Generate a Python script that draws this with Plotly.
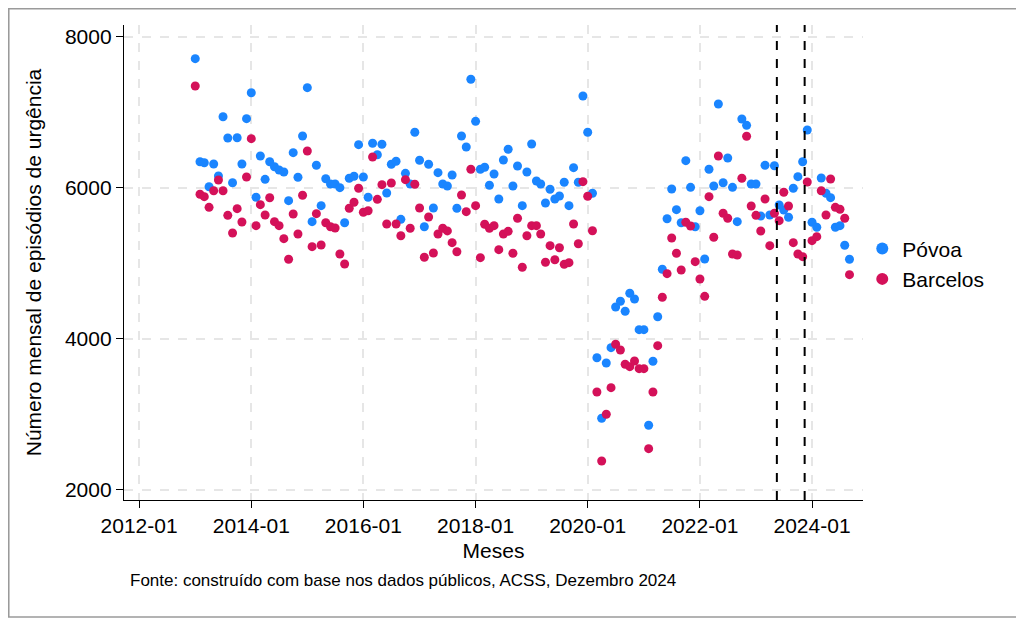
import pandas as pd
import plotly.graph_objects as go

# Monthly dates (first of month), 2013-01 .. 2024-09
meses = pd.date_range("2013-01-01", "2024-09-01", freq="MS")

povoa = [
    7709, 6344, 6331, 6013, 6314, 6155, 6940, 6658, 6066, 6662, 6314, 6914,   # 2013
    7258, 5873, 6420, 6111, 6344, 6278, 6234, 6208, 5828, 6464, 6138, 6685,   # 2014
    7325, 5550, 6297, 5762, 6119, 6049, 6049, 6000, 5536, 6125, 6151, 6570,   # 2015
    6142, 5873, 6588, 6437, 6575, 5930, 6310, 6350, 5581, 6190, 6049, 6734,   # 2016
    6363, 5483, 6310, 5731, 6199, 6049, 6022, 6168, 5727, 6685, 6539, 7436,   # 2017
    6879, 6244, 6270, 6032, 6182, 5850, 6367, 6509, 6022, 6287, 5762, 6208,   # 2018
    6579, 6089, 6049, 5797, 5979, 5850, 5890, 6072, 5762, 6265, 6072, 7215,   # 2019
    6734, 5926, 3748, 2946, 3678, 3881, 4420, 4495, 4363, 4601, 4526, 4119,   # 2020
    4119, 2853, 3701, 4291, 4919, 5589, 5983, 5709, 5536, 6358, 6005, 5483,   # 2021
    5695, 5056, 6244, 6022, 7109, 6066, 6393, 6005, 5550, 6910, 6826, 6049,   # 2022
    6049, 5625, 6297, 5638, 6291, 5771, 5705, 5608, 5992, 6146, 6344, 6764,   # 2023
    5542, 5476, 6129, 5926, 5868, 5476, 5497, 5237, 5052,                     # 2024
]

barcelos = [
    7347, 5913, 5881, 5740, 5960, 6102, 5960, 5634, 5400, 5722, 5546, 6142,   # 2013
    6649, 5497, 5775, 5638, 5867, 5550, 5497, 5325, 5052, 5652, 5387, 5900,   # 2014
    6486, 5219, 5656, 5241, 5536, 5483, 5466, 5122, 4989, 5727, 5807, 5992,   # 2015
    5674, 5695, 6407, 5846, 6040, 5519, 6062, 5519, 5364, 6106, 5462, 6045,   # 2016
    5731, 5078, 5612, 5135, 5387, 5462, 5427, 5272, 5152, 5903, 5682, 6244,   # 2017
    5762, 5073, 5515, 5462, 5497, 5179, 5387, 5422, 5131, 5595, 4946, 5364,   # 2018
    5497, 5497, 5387, 5012, 5232, 5046, 5205, 4985, 5007, 5519, 5258, 6080,   # 2019
    5886, 5430, 3294, 2380, 2999, 3351, 3926, 3850, 3661, 3629, 3704, 3603,   # 2020
    3603, 2543, 3294, 3907, 4548, 4861, 5334, 5131, 4910, 5542, 5493, 5020,   # 2021
    4791, 4561, 5881, 5343, 6420, 5661, 5595, 5122, 5109, 6125, 6681, 5758,   # 2022
    5634, 5426, 5850, 5232, 5661, 5563, 5939, 5758, 5272, 5122, 5086, 6076,   # 2023
    5298, 5351, 5960, 5638, 6115, 5740, 5714, 5595, 4848,                     # 2024
]

marcos = ["2023-05-17", "2023-11-14"]

x_ticks = ["2012-01-01", "2014-01-01", "2016-01-01", "2018-01-01",
           "2020-01-01", "2022-01-01", "2024-01-01"]
x_tick_labels = ["2012-01", "2014-01", "2016-01", "2018-01",
                 "2020-01", "2022-01", "2024-01"]
y_ticks = [2000, 4000, 6000, 8000]

FONT = "Liberation Sans, Arial, Helvetica, sans-serif"
W, H = 1024, 618
L, T = 116, 17
PW, PH = 738.7, 475
R, B = W - L - PW, H - T - PH

fig = go.Figure()
fig.add_trace(go.Scatter(x=meses, y=povoa, mode="markers", name="Póvoa",
                         legendgroup="p",
                         marker=dict(color="#1A85FF", size=9)))
fig.add_trace(go.Scatter(x=meses, y=barcelos, mode="markers", name="Barcelos",
                         legendgroup="b",
                         marker=dict(color="#D41159", size=9)))

def px(fx):
    return (fx - L) / PW

def py(fy):
    return 1 - (fy - T) / PH

shapes = []
for d in marcos:
    shapes.append(dict(type="line", xref="x", yref="paper", x0=d, x1=d, y0=0, y1=1,
                       line=dict(color="black", width=2, dash="dash")))
# outer frame
shapes.append(dict(type="rect", xref="paper", yref="paper",
                   x0=px(0.8), x1=px(1014.5), y0=py(609), y1=py(0.8),
                   line=dict(color="#9a9a9a", width=1.6), layer="below"))

fig.update_layout(
    width=W, height=H,
    margin=dict(l=L, r=R, t=T, b=B, autoexpand=False),
    paper_bgcolor="white", plot_bgcolor="white",
    font=dict(family=FONT, size=21, color="black"),
    showlegend=True,
    legend=dict(x=0.999, y=0.497, xanchor="left", yanchor="middle",
                font=dict(size=21), bgcolor="rgba(0,0,0,0)",
                itemsizing="constant", tracegroupgap=0),
    shapes=shapes,
    annotations=[dict(text="Fonte: construído com base nos dados públicos, ACSS, Dezembro 2024",
                      xref="paper", yref="paper", x=px(120), y=py(572),
                      xanchor="left", yanchor="middle", showarrow=False,
                      font=dict(size=17))],
)

fig.update_xaxes(
    type="date", range=["2011-09-25", "2024-11-28"],
    tickvals=x_ticks, ticktext=x_tick_labels,
    showline=True, linecolor="black", linewidth=1.3,
    ticks="outside", ticklen=7, tickcolor="black",
    showgrid=True, gridcolor="#e6e6e6", griddash="dash", gridwidth=1.5,
    zeroline=False,
    title=dict(text="Meses", font=dict(size=21), standoff=6),
)
fig.update_yaxes(
    range=[1863, 8155], tickvals=y_ticks,
    showline=True, linecolor="black", linewidth=1.3,
    ticks="outside", ticklen=7, tickcolor="black",
    showgrid=True, gridcolor="#e6e6e6", griddash="dash", gridwidth=1.5,
    zeroline=False,
    title=dict(text="Número mensal de episódios de urgência", font=dict(size=21), standoff=17),
)

fig.write_html("out.html")
